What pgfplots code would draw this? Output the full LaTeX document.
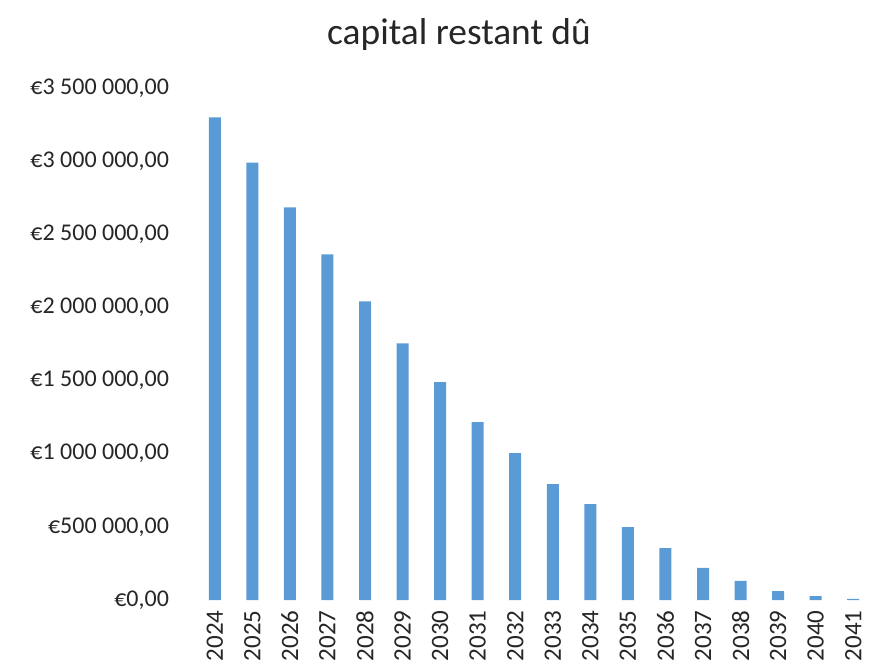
\documentclass[border=0pt]{standalone}
\usepackage{fontspec}
\setmainfont{Carlito}
\usepackage{pgfplots}
\pgfplotsset{compat=1.18}
\definecolor{barblue}{HTML}{5B9BD5}
\begin{document}
\begin{tikzpicture}
\path[use as bounding box] (0,0) rectangle (446pt,332pt);
\begin{axis}[
  at={(98pt,32pt)}, anchor=south west,
  scale only axis, width=338pt, height=256pt,
  xmin=-0.5, xmax=17.5, ymin=0, ymax=3500000,
  axis line style={draw=none},
  major tick length=0pt,
  xtick={0,...,17},
  xticklabels={2024,2025,2026,2027,2028,2029,2030,2031,2032,2033,2034,2035,2036,2037,2038,2039,2040,2041},
  xticklabel style={rotate=90, anchor=east, font=\fontsize{12.5}{14}\selectfont, text=black!85, inner sep=0pt},
  xticklabel shift=5pt,
  ytick={0,500000,1000000,1500000,2000000,2500000,3000000,3500000},
  yticklabels={{\mbox{€0,00}},{\mbox{€500 000,00}},{\mbox{€1 000 000,00}},{\mbox{€1 500 000,00}},{\mbox{€2 000 000,00}},{\mbox{€2 500 000,00}},{\mbox{€3 000 000,00}},{\mbox{€3 500 000,00}}},
  yticklabel style={font=\fontsize{12}{14}\selectfont, text=black!85, xshift=-10pt},
  scaled y ticks=false,
  ybar, bar width=6pt,
  clip=false,
]
\addplot[fill=barblue, draw=none] coordinates {
(0,3300000) (1,2990000) (2,2684000) (3,2363000) (4,2042000) (5,1755000)
(6,1489000) (7,1216000) (8,1004000) (9,792000) (10,656000) (11,499000)
(12,355000) (13,219000) (14,130000) (15,61000) (16,27000) (17,7000)
};
\end{axis}
\node[font=\fontsize{18.7}{22}\selectfont, text=black!85, anchor=base] at (229.5pt,309.5pt) {capital restant dû};
\end{tikzpicture}
\end{document}
